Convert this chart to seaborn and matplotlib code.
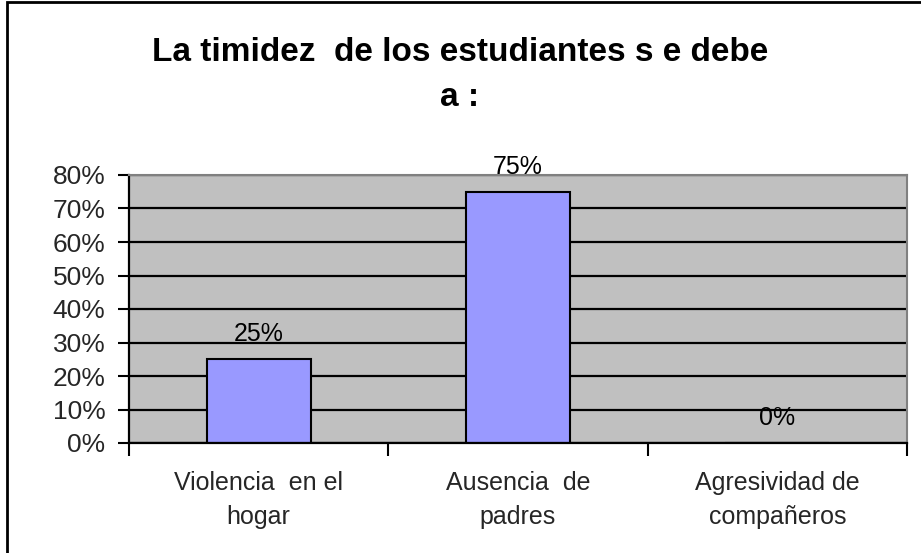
import matplotlib
matplotlib.use("Agg")
import matplotlib.pyplot as plt
import matplotlib.ticker as mticker
from matplotlib.patches import Rectangle
import seaborn as sns
import pandas as pd

# datos del gráfico
categorias = ["Violencia  en el\nhogar", "Ausencia  de\npadres", "Agresividad de\ncompañeros"]
valores = [0.25, 0.75, 0.0]
etiquetas = ["25%", "75%", "0%"]
titulo = "La timidez  de los estudiantes s e debe\na :"

sns.set_theme(style="white")
plt.rcParams['font.family'] = ['Liberation Sans', 'DejaVu Sans']

df = pd.DataFrame({"categoria": categorias, "valor": valores})

fig = plt.figure(figsize=(9.21, 5.53), dpi=100)
fig.patch.set_facecolor("white")
ax = fig.add_axes([129 / 921, 1 - 443 / 553, (907 - 129) / 921, (443 - 175) / 553])
ax.set_facecolor("#C0C0C0")

# líneas de cuadrícula negras detrás de las barras
ax.set_axisbelow(True)
ax.yaxis.grid(True, color="black", linewidth=1.6)
ax.xaxis.grid(False)

sns.barplot(data=df, x="categoria", y="valor", color="#9999FF", saturation=1,
            width=0.4, edgecolor="black", linewidth=1.5, ax=ax)

for i, (v, t) in enumerate(zip(valores, etiquetas)):
    ax.annotate(t, (i, v), xytext=(0, 18), textcoords="offset points",
                ha="center", va="center", fontsize=18, color="black")

ax.set_xlim(-0.5, 2.5)
ax.set_ylim(0, 0.8)
ax.yaxis.set_major_locator(mticker.MultipleLocator(0.1))
ax.yaxis.set_major_formatter(mticker.FuncFormatter(lambda y, _: f"{y * 100:.0f}%"))

ax.set_xlabel("")
ax.set_ylabel("")
ax.tick_params(axis="y", which="major", direction="out", length=8, width=1.5,
               color="black", labelsize=19, pad=9, left=True)
ax.tick_params(axis="x", which="major", length=0, labelsize=18, pad=20)
for lab in ax.get_xticklabels():
    lab.set_linespacing(1.55)
ax.xaxis.set_minor_locator(mticker.FixedLocator([-0.5, 0.5, 1.5, 2.5]))
ax.tick_params(axis="x", which="minor", direction="out", length=9, width=1.5,
               color="black", bottom=True)

for side in ["left", "bottom"]:
    ax.spines[side].set_color("black")
    ax.spines[side].set_linewidth(1.6)
for side in ["top", "right"]:
    ax.spines[side].set_color("#808080")
    ax.spines[side].set_linewidth(1.5)

fig.text(460 / 921, 1 - 75 / 553, titulo, ha="center", va="center",
         fontsize=24, fontweight="bold", linespacing=1.6, color="black")

# marco exterior del gráfico
fig.patches.append(Rectangle((7 / 921, -0.05), 1.1, 1 - 2 / 553 + 0.05,
                             transform=fig.transFigure, fill=False,
                             edgecolor="black", linewidth=2))

fig.savefig("out.png", dpi=100)
